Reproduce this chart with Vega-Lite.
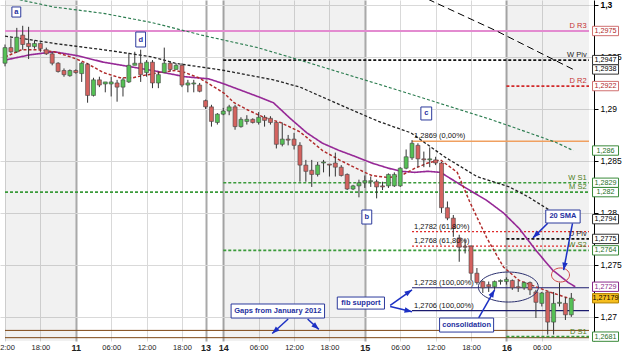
{
"$schema":"https://vega.github.io/schema/vega-lite/v6.json",
"width":594,"height":341,
"autosize":{"type":"none"},
"padding":{"left":0,"top":0,"right":31,"bottom":17},
"background":"white",
"config":{"view":{"stroke":null},"font":"Liberation Sans"},
"datasets":{
"days":[{"t":0,"t2":12},{"t":37,"t2":61},{"t":85,"t2":99}],
"levels":[
{"kind":"R3","p":1.2975,"t":0,"t2":99,"tag":"D R3"},
{"kind":"pivot","p":1.2947,"t":37,"t2":99,"tag":"W Piv"},
{"kind":"R2","p":1.2922,"t":85,"t2":99,"tag":"D R2"},
{"kind":"fib0","p":1.2869,"t":69,"t2":99,"tag":"1,2869 (0,00%)"},
{"kind":"support","p":1.2829,"t":37,"t2":99,"tag":"W S1"},
{"kind":"support","p":1.2820,"t":0,"t2":99,"tag":"M S2"},
{"kind":"fib618","p":1.2782,"t":69,"t2":99,"tag":"1,2782 (61,80%)"},
{"kind":"pivot","p":1.2775,"t":85,"t2":99,"tag":"D Piv"},
{"kind":"fib618","p":1.2768,"t":69,"t2":99,"tag":"1,2768 (61,80%)"},
{"kind":"support","p":1.2764,"t":37,"t2":99,"tag":"W S2"},
{"kind":"fib100","p":1.2728,"t":69,"t2":99,"tag":"1,2728 (100,00%)"},
{"kind":"fib100","p":1.2706,"t":69,"t2":99,"tag":"1,2706 (100,00%)"},
{"kind":"gap","p":1.2687,"t":0,"t2":99,"tag":""},
{"kind":"gap","p":1.2680,"t":0,"t2":99,"tag":""},
{"kind":"support","p":1.2681,"t":85,"t2":99,"tag":"D S1"}
],
"mas":[
{"ma":"ma20","t":0,"p":1.2947},{"ma":"ma20","t":4.17,"p":1.2952},{"ma":"ma20","t":8.33,"p":1.2955},{"ma":"ma20","t":12.5,"p":1.2951},{"ma":"ma20","t":16.67,"p":1.2945},{"ma":"ma20","t":20.83,"p":1.2941},{"ma":"ma20","t":25,"p":1.2937},{"ma":"ma20","t":27.83,"p":1.2934},{"ma":"ma20","t":30.5,"p":1.2931},{"ma":"ma20","t":34.5,"p":1.2929},{"ma":"ma20","t":36.67,"p":1.2925},{"ma":"ma20","t":40,"p":1.2918},{"ma":"ma20","t":42.83,"p":1.2912},{"ma":"ma20","t":45.5,"p":1.2906},{"ma":"ma20","t":48.33,"p":1.2891},{"ma":"ma20","t":51.17,"p":1.2877},{"ma":"ma20","t":53.83,"p":1.2867},{"ma":"ma20","t":56.67,"p":1.2860},{"ma":"ma20","t":59.5,"p":1.2854},{"ma":"ma20","t":62.17,"p":1.2848},{"ma":"ma20","t":65,"p":1.2843},{"ma":"ma20","t":67.17,"p":1.2840},{"ma":"ma20","t":69.5,"p":1.2839},{"ma":"ma20","t":71.67,"p":1.2840},{"ma":"ma20","t":73.83,"p":1.2839},{"ma":"ma20","t":77.83,"p":1.2825},{"ma":"ma20","t":81.67,"p":1.2812},{"ma":"ma20","t":84.5,"p":1.2800},{"ma":"ma20","t":87.17,"p":1.2785},{"ma":"ma20","t":90,"p":1.2764},{"ma":"ma20","t":92.83,"p":1.2745},{"ma":"ma20","t":95.5,"p":1.2733},{"ma":"ma20","t":96.67,"p":1.2729},
{"ma":"ma10","t":0,"p":1.2950},{"ma":"ma10","t":2.83,"p":1.2957},{"ma":"ma10","t":5.5,"p":1.2957},{"ma":"ma10","t":8.33,"p":1.2955},{"ma":"ma10","t":11.17,"p":1.2950},{"ma":"ma10","t":13.83,"p":1.2944},{"ma":"ma10","t":16.67,"p":1.2935},{"ma":"ma10","t":19.5,"p":1.2930},{"ma":"ma10","t":21.67,"p":1.2930},{"ma":"ma10","t":23.33,"p":1.2932},{"ma":"ma10","t":26.17,"p":1.2935},{"ma":"ma10","t":28.83,"p":1.2937},{"ma":"ma10","t":30.5,"p":1.2935},{"ma":"ma10","t":32.83,"p":1.2930},{"ma":"ma10","t":35.5,"p":1.2921},{"ma":"ma10","t":37.17,"p":1.2915},{"ma":"ma10","t":38.83,"p":1.2906},{"ma":"ma10","t":41.17,"p":1.2899},{"ma":"ma10","t":43.83,"p":1.2892},{"ma":"ma10","t":46.67,"p":1.2887},{"ma":"ma10","t":50,"p":1.2878},{"ma":"ma10","t":53.83,"p":1.2860},{"ma":"ma10","t":56.67,"p":1.2851},{"ma":"ma10","t":59.5,"p":1.2843},{"ma":"ma10","t":62.17,"p":1.2836},{"ma":"ma10","t":65,"p":1.2834},{"ma":"ma10","t":67.17,"p":1.2836},{"ma":"ma10","t":69.5,"p":1.2843},{"ma":"ma10","t":71.67,"p":1.2848},{"ma":"ma10","t":73.83,"p":1.2851},{"ma":"ma10","t":76.67,"p":1.2839},{"ma":"ma10","t":78.83,"p":1.2810},{"ma":"ma10","t":81.67,"p":1.2776},{"ma":"ma10","t":84.5,"p":1.2748},{"ma":"ma10","t":87.17,"p":1.2735},{"ma":"ma10","t":90,"p":1.2729},{"ma":"ma10","t":92.83,"p":1.2723},{"ma":"ma10","t":95.5,"p":1.2718},{"ma":"ma10","t":96.67,"p":1.2716},
{"ma":"ma50","t":0,"p":1.2970},{"ma":"ma50","t":5,"p":1.2966},{"ma":"ma50","t":8.33,"p":1.2963},{"ma":"ma50","t":16.67,"p":1.2957},{"ma":"ma50","t":25,"p":1.2950},{"ma":"ma50","t":28.83,"p":1.2944},{"ma":"ma50","t":37.17,"p":1.2937},{"ma":"ma50","t":45.5,"p":1.2928},{"ma":"ma50","t":50,"p":1.2921},{"ma":"ma50","t":58.83,"p":1.2899},{"ma":"ma50","t":63.33,"p":1.2888},{"ma":"ma50","t":68.83,"p":1.2877},{"ma":"ma50","t":74.5,"p":1.2854},{"ma":"ma50","t":80,"p":1.2835},{"ma":"ma50","t":85.5,"p":1.2825},{"ma":"ma50","t":88.83,"p":1.2815},{"ma":"ma50","t":93.33,"p":1.2799},{"ma":"ma50","t":96.33,"p":1.2794},
{"ma":"ma100","t":0,"p":1.3008},{"ma":"ma100","t":8.33,"p":1.2998},{"ma":"ma100","t":16.67,"p":1.2992},{"ma":"ma100","t":25,"p":1.2983},{"ma":"ma100","t":33.33,"p":1.2971},{"ma":"ma100","t":42.83,"p":1.2959},{"ma":"ma100","t":50,"p":1.2947},{"ma":"ma100","t":66.67,"p":1.2918},{"ma":"ma100","t":82.83,"p":1.2889},{"ma":"ma100","t":93.33,"p":1.2868},{"ma":"ma100","t":96.33,"p":1.2860},
{"ma":"ma200","t":70,"p":1.3010},{"ma":"ma200","t":83.33,"p":1.2975},{"ma":"ma200","t":96.33,"p":1.2938}
],
"candles":[
{"t":0,"open":1.2944,"high":1.2962,"low":1.2941,"close":1.2959},
{"t":1,"open":1.2959,"high":1.2968,"low":1.2954,"close":1.2955},
{"t":2,"open":1.2955,"high":1.2978,"low":1.2954,"close":1.2969},
{"t":3,"open":1.2971,"high":1.2980,"low":1.2957,"close":1.2962},
{"t":4,"open":1.2963,"high":1.2979,"low":1.2948,"close":1.2960},
{"t":5,"open":1.2960,"high":1.2966,"low":1.2958,"close":1.2963},
{"t":6,"open":1.2963,"high":1.2964,"low":1.2955,"close":1.2958},
{"t":7,"open":1.2957,"high":1.2959,"low":1.2952,"close":1.2953},
{"t":8,"open":1.2953,"high":1.2955,"low":1.2942,"close":1.2944},
{"t":9,"open":1.2944,"high":1.2945,"low":1.2935,"close":1.2936},
{"t":10,"open":1.2937,"high":1.2939,"low":1.2931,"close":1.2933},
{"t":11,"open":1.2932,"high":1.2938,"low":1.2931,"close":1.2937},
{"t":12,"open":1.2937,"high":1.2938,"low":1.2934,"close":1.2935},
{"t":13,"open":1.2934,"high":1.2945,"low":1.2926,"close":1.2944},
{"t":14,"open":1.2943,"high":1.2944,"low":1.2906,"close":1.2913},
{"t":15,"open":1.2913,"high":1.2930,"low":1.2912,"close":1.2928},
{"t":16,"open":1.2928,"high":1.2931,"low":1.2921,"close":1.2923},
{"t":17,"open":1.2924,"high":1.2926,"low":1.2916,"close":1.2926},
{"t":18,"open":1.2924,"high":1.2931,"low":1.2912,"close":1.2926},
{"t":19,"open":1.2925,"high":1.2928,"low":1.2907,"close":1.2921},
{"t":20,"open":1.2921,"high":1.2930,"low":1.2912,"close":1.2928},
{"t":21,"open":1.2926,"high":1.2954,"low":1.2925,"close":1.2942},
{"t":22,"open":1.2942,"high":1.2955,"low":1.2942,"close":1.2944},
{"t":23,"open":1.2944,"high":1.2957,"low":1.2926,"close":1.2933},
{"t":24,"open":1.2935,"high":1.2947,"low":1.2931,"close":1.2945},
{"t":25,"open":1.2945,"high":1.2947,"low":1.2920,"close":1.2925},
{"t":26,"open":1.2925,"high":1.2936,"low":1.2920,"close":1.2933},
{"t":27,"open":1.2935,"high":1.2959,"low":1.2935,"close":1.2944},
{"t":28,"open":1.2944,"high":1.2946,"low":1.2936,"close":1.2938},
{"t":29,"open":1.2938,"high":1.2944,"low":1.2938,"close":1.2942},
{"t":30,"open":1.2942,"high":1.2944,"low":1.2921,"close":1.2923},
{"t":31,"open":1.2923,"high":1.2928,"low":1.2916,"close":1.2925},
{"t":32,"open":1.2924,"high":1.2928,"low":1.2916,"close":1.2925},
{"t":33,"open":1.2923,"high":1.2925,"low":1.2916,"close":1.2917},
{"t":34,"open":1.2908,"high":1.2909,"low":1.2900,"close":1.2902},
{"t":35,"open":1.2902,"high":1.2904,"low":1.2883,"close":1.2888},
{"t":36,"open":1.2887,"high":1.2896,"low":1.2885,"close":1.2895},
{"t":37,"open":1.2895,"high":1.2901,"low":1.2894,"close":1.2898},
{"t":38,"open":1.2898,"high":1.2904,"low":1.2894,"close":1.2902},
{"t":39,"open":1.2902,"high":1.2904,"low":1.2880,"close":1.2883},
{"t":40,"open":1.2883,"high":1.2892,"low":1.2882,"close":1.2890},
{"t":41,"open":1.2888,"high":1.2894,"low":1.2885,"close":1.2890},
{"t":42,"open":1.2890,"high":1.2891,"low":1.2886,"close":1.2887},
{"t":43,"open":1.2887,"high":1.2897,"low":1.2885,"close":1.2892},
{"t":44,"open":1.2892,"high":1.2894,"low":1.2883,"close":1.2889},
{"t":45,"open":1.2891,"high":1.2893,"low":1.2885,"close":1.2887},
{"t":46,"open":1.2887,"high":1.2887,"low":1.2862,"close":1.2866},
{"t":47,"open":1.2866,"high":1.2887,"low":1.2864,"close":1.2871},
{"t":48,"open":1.2871,"high":1.2875,"low":1.2865,"close":1.2870},
{"t":49,"open":1.2871,"high":1.2877,"low":1.2861,"close":1.2865},
{"t":50,"open":1.2865,"high":1.2868,"low":1.2830,"close":1.2846},
{"t":51,"open":1.2846,"high":1.2851,"low":1.2830,"close":1.2840},
{"t":52,"open":1.2841,"high":1.2851,"low":1.2825,"close":1.2837},
{"t":53,"open":1.2837,"high":1.2849,"low":1.2835,"close":1.2846},
{"t":54,"open":1.2848,"high":1.2851,"low":1.2839,"close":1.2849},
{"t":55,"open":1.2847,"high":1.2847,"low":1.2835,"close":1.2846},
{"t":56,"open":1.2848,"high":1.2858,"low":1.2835,"close":1.2844},
{"t":57,"open":1.2844,"high":1.2846,"low":1.2835,"close":1.2836},
{"t":58,"open":1.2837,"high":1.2838,"low":1.2822,"close":1.2823},
{"t":59,"open":1.2823,"high":1.2827,"low":1.2822,"close":1.2826},
{"t":60,"open":1.2826,"high":1.2832,"low":1.2815,"close":1.2829},
{"t":61,"open":1.2829,"high":1.2836,"low":1.2824,"close":1.2831},
{"t":62,"open":1.2830,"high":1.2835,"low":1.2825,"close":1.2831},
{"t":63,"open":1.2830,"high":1.2832,"low":1.2814,"close":1.2825},
{"t":64,"open":1.2826,"high":1.2830,"low":1.2822,"close":1.2825},
{"t":65,"open":1.2826,"high":1.2838,"low":1.2824,"close":1.2837},
{"t":66,"open":1.2826,"high":1.2839,"low":1.2825,"close":1.2837},
{"t":67,"open":1.2826,"high":1.2844,"low":1.2825,"close":1.2843},
{"t":68,"open":1.2843,"high":1.2861,"low":1.2842,"close":1.2854},
{"t":69,"open":1.2853,"high":1.2870,"low":1.2851,"close":1.2867},
{"t":70,"open":1.2865,"high":1.2867,"low":1.2844,"close":1.2852},
{"t":71,"open":1.2852,"high":1.2859,"low":1.2844,"close":1.2851},
{"t":72,"open":1.2851,"high":1.2863,"low":1.2844,"close":1.2852},
{"t":73,"open":1.2851,"high":1.2854,"low":1.2846,"close":1.2848},
{"t":74,"open":1.2848,"high":1.2849,"low":1.2800,"close":1.2805},
{"t":75,"open":1.2805,"high":1.2811,"low":1.2793,"close":1.2795},
{"t":76,"open":1.2795,"high":1.2798,"low":1.2777,"close":1.2785},
{"t":77,"open":1.2776,"high":1.2779,"low":1.2753,"close":1.2767},
{"t":78,"open":1.2768,"high":1.2774,"low":1.2761,"close":1.2767},
{"t":79,"open":1.2768,"high":1.2769,"low":1.2735,"close":1.2742},
{"t":80,"open":1.2742,"high":1.2747,"low":1.2731,"close":1.2733},
{"t":81,"open":1.2734,"high":1.2735,"low":1.2723,"close":1.2728},
{"t":82,"open":1.2731,"high":1.2734,"low":1.2724,"close":1.2729},
{"t":83,"open":1.2729,"high":1.2735,"low":1.2726,"close":1.2734},
{"t":84,"open":1.2734,"high":1.2736,"low":1.2731,"close":1.2735},
{"t":85,"open":1.2734,"high":1.2738,"low":1.2731,"close":1.2736},
{"t":86,"open":1.2735,"high":1.2736,"low":1.2726,"close":1.2728},
{"t":87,"open":1.2729,"high":1.2735,"low":1.2724,"close":1.2728},
{"t":88,"open":1.2728,"high":1.2734,"low":1.2726,"close":1.2733},
{"t":89,"open":1.2733,"high":1.2734,"low":1.2721,"close":1.2726},
{"t":90,"open":1.2724,"high":1.2726,"low":1.2699,"close":1.2714},
{"t":91,"open":1.2713,"high":1.2724,"low":1.2710,"close":1.2723},
{"t":92,"open":1.2724,"high":1.2724,"low":1.2683,"close":1.2695},
{"t":93,"open":1.2695,"high":1.2724,"low":1.2683,"close":1.2713},
{"t":94,"open":1.2713,"high":1.2733,"low":1.2710,"close":1.2714},
{"t":95,"open":1.2713,"high":1.2719,"low":1.2697,"close":1.2702},
{"t":96,"open":1.2702,"high":1.2723,"low":1.2700,"close":1.2718}
],
"arrows":[
{"id":"A1","t":92,"p":1.2790,"t2":89.5,"p2":1.2776},
{"id":"A2","t":96.2,"p":1.2790,"t2":94.7,"p2":1.2745},
{"id":"A3","t":65.3,"p":1.2711,"t2":69,"p2":1.2726},
{"id":"A4","t":65.3,"p":1.2710,"t2":69,"p2":1.2705},
{"id":"A5","t":48,"p":1.2698,"t2":45.3,"p2":1.2684},
{"id":"A6","t":51.3,"p":1.2698,"t2":53.2,"p2":1.2688},
{"id":"A7","t":80.3,"p":1.2699,"t2":83,"p2":1.2726}
],
"notes":[
{"text":"a","t":1.17,"t2":2.67,"p":1.29981,"p2":1.29884,"tc":1.92,"pc":1.29933},
{"text":"d","t":22.17,"t2":23.83,"p":1.2974,"p2":1.29596,"tc":23,"pc":1.29668},
{"text":"c","t":70.5,"t2":72.33,"p":1.29019,"p2":1.28894,"tc":71.42,"pc":1.28957},
{"text":"b","t":60.5,"t2":62.17,"p":1.28028,"p2":1.27893,"tc":61.33,"pc":1.2796},
{"text":"20 SMA","t":91.67,"t2":97.5,"p":1.28028,"p2":1.27903,"tc":94.58,"pc":1.27966},
{"text":"fib support","t":56.33,"t2":64.33,"p":1.27191,"p2":1.27075,"tc":60.33,"pc":1.27133},
{"text":"Gaps from January 2012","t":38.33,"t2":54.17,"p":1.27124,"p2":1.26989,"tc":46.25,"pc":1.27056},
{"text":"consolidation","t":73.67,"t2":82.83,"p":1.26989,"p2":1.26854,"tc":78.25,"pc":1.26922}
],
"tags":[
{"p":1.2975,"label":"1,2975","group":"res"},
{"p":1.2947,"label":"1,2947","group":"neu"},
{"p":1.2938,"label":"1,2938","group":"neu"},
{"p":1.2922,"label":"1,2922","group":"res"},
{"p":1.286,"label":"1,286","group":"sup"},
{"p":1.2829,"label":"1,2829","group":"sup"},
{"p":1.282,"label":"1,282","group":"sup"},
{"p":1.2794,"label":"1,2794","group":"neu"},
{"p":1.2775,"label":"1,2775","group":"neu"},
{"p":1.2764,"label":"1,2764","group":"sup"},
{"p":1.2729,"label":"1,2729","group":"sma"},
{"p":1.27179,"label":"1,27179","group":"last"},
{"p":1.2681,"label":"1,2681","group":"sup"}
]
},
"layer":[
{"data":{"name":"levels"},"mark":{"type":"rule","opacity":0},
 "encoding":{
  "x":{"field":"t","type":"quantitative","scale":{"domain":[0,99]},
   "axis":{"title":null,"values":[0,6,12,18,24,30,34,37,43,49,55,61,67,73,79,85,91],"tickCount":60,
    "labelExpr":"['12:00','18:00','11','06:00','12:00','18:00','13','14','06:00','12:00','18:00','15','06:00','12:00','18:00','16','06:00'][indexof([0,6,12,18,24,30,34,37,43,49,55,61,67,73,79,85,91], datum.value)]",
    "grid":true,"gridColor":{"condition":{"test":"indexof([12,34,37,61,85], datum.value) >= 0","value":"#a9a9a9"},"value":"#d9d9d9"},
    "gridWidth":{"condition":{"test":"indexof([12,34,37,61,85], datum.value) >= 0","value":2},"value":1},
    "domain":false,"ticks":false,"labelFlush":false,"labelOverlap":false,"labelPadding":2,"labelColor":"#222",
    "labelFontSize":{"condition":{"test":"indexof([12,34,37,61,85], datum.value) >= 0","value":9},"value":7.5},
    "labelFontWeight":{"condition":{"test":"indexof([12,34,37,61,85], datum.value) >= 0","value":"bold"},"value":"normal"}}},
  "x2":{"field":"t2"},
  "y":{"field":"p","type":"quantitative","scale":{"domain":[1.26768,1.30048]},
   "axis":{"title":null,"orient":"right","values":[1.27,1.275,1.28,1.285,1.29,1.295,1.3],"tickCount":20,
    "labelExpr":"replace(format(datum.value, '.4~f'), '.', ',')",
    "grid":true,"gridColor":"#d9d9d9","domainColor":"#000","domainWidth":1,"tickColor":"#000","tickSize":4,
    "labelFontSize":8.5,"labelColor":"#000","labelPadding":2,
    "labelFontWeight":{"condition":{"test":"datum.value >= 1.2999","value":"bold"},"value":"normal"}}}
 }},
{"data":{"name":"days"},"mark":{"type":"rect","fill":"#000","opacity":0.055},
 "encoding":{"x":{"field":"t","type":"quantitative","scale":{"domain":[0,99]},"title":null},"x2":{"field":"t2"}}},
{"data":{"name":"levels"},"mark":{"type":"rule"},
 "encoding":{
  "x":{"field":"t","type":"quantitative","scale":{"domain":[0,99]},"title":null},
  "x2":{"field":"t2"},
  "y":{"field":"p","type":"quantitative","scale":{"domain":[1.26768,1.30048]},"title":null},
  "color":{"field":"kind","type":"nominal","legend":null,"scale":{"domain":["R3","R2","pivot","support","fib0","fib618","fib100","gap"],"range":["#e38bd0","#d22a2a","#111111","#3a9a3a","#f0a060","#e02828","#1b1b6e","#7d4513"]}},
  "strokeDash":{"field":"kind","type":"nominal","legend":null,"scale":{"domain":["R3","R2","pivot","support","fib0","fib618","fib100","gap"],"range":[[1,0],[3,2],[3,2],[3,2],[1,0],[2,2],[1,0],[1,0]]}},
  "strokeWidth":{"field":"kind","type":"nominal","legend":null,"scale":{"domain":["R3","R2","pivot","support","fib0","fib618","fib100","gap"],"range":[2,1,1,1,1,2,1.5,2]}}
 }},
{"data":{"name":"mas"},"mark":{"type":"line","clip":true},
 "encoding":{
  "x":{"field":"t","type":"quantitative","scale":{"domain":[0,99]},"title":null},
  "y":{"field":"p","type":"quantitative","scale":{"domain":[1.26768,1.30048]},"title":null},
  "color":{"field":"ma","type":"nominal","legend":null,"scale":{"domain":["ma20","ma10","ma50","ma100","ma200"],"range":["#962896","#b02a2a","#222222","#2c7d50","#000000"]}},
  "strokeDash":{"field":"ma","type":"nominal","legend":null,"scale":{"domain":["ma20","ma10","ma50","ma100","ma200"],"range":[[1,0],[3,2],[3,2],[3,2],[7,4]]}},
  "strokeWidth":{"field":"ma","type":"nominal","legend":null,"scale":{"domain":["ma20","ma10","ma50","ma100","ma200"],"range":[1.6,1,1,1,1.5]}}
 }},
{"data":{"name":"candles"},"mark":{"type":"rule","color":"#333","strokeWidth":1},
 "encoding":{
  "x":{"field":"t","type":"quantitative","scale":{"domain":[0,99]},"title":null},
  "y":{"field":"low","type":"quantitative","scale":{"domain":[1.26768,1.30048]},"title":null},
  "y2":{"field":"high"}}},
{"data":{"name":"candles"},"mark":{"type":"bar","width":4,"stroke":"#444","strokeWidth":0.6},
 "encoding":{
  "x":{"field":"t","type":"quantitative","scale":{"domain":[0,99]},"title":null},
  "y":{"field":"open","type":"quantitative","scale":{"domain":[1.26768,1.30048]},"title":null},
  "y2":{"field":"close"},
  "color":{"condition":[{"test":"datum.close > datum.open + 0.00005","value":"#55c055"},{"test":"datum.close < datum.open - 0.00005","value":"#d4625f"}],"value":"#777"}}},
{"data":{"name":"levels"},"transform":[{"filter":"datum.tag != '' && indexof(datum.kind, 'fib') != 0"}],
 "mark":{"type":"text","align":"right","baseline":"bottom","dy":-1,"fontSize":7.5},
 "encoding":{
  "x":{"datum":98.6,"type":"quantitative","scale":{"domain":[0,99]},"title":null},
  "y":{"field":"p","type":"quantitative","scale":{"domain":[1.26768,1.30048]},"title":null},
  "text":{"field":"tag"},
  "color":{"field":"kind","type":"nominal","legend":null,"scale":{"domain":["R3","R2","pivot","support"],"range":["#c43030","#c43030","#222222","#4f7d22"]}}}},
{"data":{"name":"levels"},"transform":[{"filter":"indexof(datum.kind, 'fib') == 0"}],
 "mark":{"type":"text","align":"left","baseline":"bottom","dx":2,"dy":-1,"fontSize":7.5,"color":"#111"},
 "encoding":{
  "x":{"field":"t","type":"quantitative","scale":{"domain":[0,99]},"title":null},
  "y":{"field":"p","type":"quantitative","scale":{"domain":[1.26768,1.30048]},"title":null},
  "text":{"field":"tag"}}},
{"data":{"values":[{"zone":"consolidation","t":85.33,"p":1.27287}]},
 "mark":{"type":"point","shape":"M -1 0 A 1 0.5 0 1 1 1 0 A 1 0.5 0 1 1 -1 0 Z","size":3600,"filled":false,"stroke":"#2a2f6e","strokeWidth":1,"opacity":1},
 "encoding":{
  "x":{"field":"t","type":"quantitative","scale":{"domain":[0,99]},"title":null},
  "y":{"field":"p","type":"quantitative","scale":{"domain":[1.26768,1.30048]},"title":null}}},
{"data":{"values":[{"zone":"sma touch","t":94.17,"p":1.27403}]},
 "mark":{"type":"point","shape":"M -1 0 A 1 0.78 0 1 1 1 0 A 1 0.78 0 1 1 -1 0 Z","size":324,"filled":false,"stroke":"#d04848","strokeWidth":1,"opacity":1},
 "encoding":{
  "x":{"field":"t","type":"quantitative","scale":{"domain":[0,99]},"title":null},
  "y":{"field":"p","type":"quantitative","scale":{"domain":[1.26768,1.30048]},"title":null}}},
{"data":{"name":"arrows"},"mark":{"type":"rule","color":"#1c30c4","strokeWidth":1.5},
 "encoding":{
  "x":{"field":"t","type":"quantitative","scale":{"domain":[0,99]},"title":null},
  "x2":{"field":"t2"},
  "y":{"field":"p","type":"quantitative","scale":{"domain":[1.26768,1.30048]},"title":null},
  "y2":{"field":"p2"}}},
{"data":{"name":"arrows"},"transform":[{"filter":"datum.id == 'A1'"}],"mark":{"type":"point","shape":"M 0 0 L -0.55 1.5 L 0.55 1.5 Z","size":100,"filled":true,"color":"#1c30c4","opacity":1,"angle":225},
 "encoding":{"x":{"field":"t2","type":"quantitative","scale":{"domain":[0,99]},"title":null},"y":{"field":"p2","type":"quantitative","scale":{"domain":[1.26768,1.30048]},"title":null}}},
{"data":{"name":"arrows"},"transform":[{"filter":"datum.id == 'A2'"}],"mark":{"type":"point","shape":"M 0 0 L -0.55 1.5 L 0.55 1.5 Z","size":100,"filled":true,"color":"#1c30c4","opacity":1,"angle":191},
 "encoding":{"x":{"field":"t2","type":"quantitative","scale":{"domain":[0,99]},"title":null},"y":{"field":"p2","type":"quantitative","scale":{"domain":[1.26768,1.30048]},"title":null}}},
{"data":{"name":"arrows"},"transform":[{"filter":"datum.id == 'A3'"}],"mark":{"type":"point","shape":"M 0 0 L -0.55 1.5 L 0.55 1.5 Z","size":100,"filled":true,"color":"#1c30c4","opacity":1,"angle":56},
 "encoding":{"x":{"field":"t2","type":"quantitative","scale":{"domain":[0,99]},"title":null},"y":{"field":"p2","type":"quantitative","scale":{"domain":[1.26768,1.30048]},"title":null}}},
{"data":{"name":"arrows"},"transform":[{"filter":"datum.id == 'A4'"}],"mark":{"type":"point","shape":"M 0 0 L -0.55 1.5 L 0.55 1.5 Z","size":100,"filled":true,"color":"#1c30c4","opacity":1,"angle":103},
 "encoding":{"x":{"field":"t2","type":"quantitative","scale":{"domain":[0,99]},"title":null},"y":{"field":"p2","type":"quantitative","scale":{"domain":[1.26768,1.30048]},"title":null}}},
{"data":{"name":"arrows"},"transform":[{"filter":"datum.id == 'A5'"}],"mark":{"type":"point","shape":"M 0 0 L -0.55 1.5 L 0.55 1.5 Z","size":100,"filled":true,"color":"#1c30c4","opacity":1,"angle":227},
 "encoding":{"x":{"field":"t2","type":"quantitative","scale":{"domain":[0,99]},"title":null},"y":{"field":"p2","type":"quantitative","scale":{"domain":[1.26768,1.30048]},"title":null}}},
{"data":{"name":"arrows"},"transform":[{"filter":"datum.id == 'A6'"}],"mark":{"type":"point","shape":"M 0 0 L -0.55 1.5 L 0.55 1.5 Z","size":100,"filled":true,"color":"#1c30c4","opacity":1,"angle":132},
 "encoding":{"x":{"field":"t2","type":"quantitative","scale":{"domain":[0,99]},"title":null},"y":{"field":"p2","type":"quantitative","scale":{"domain":[1.26768,1.30048]},"title":null}}},
{"data":{"name":"arrows"},"transform":[{"filter":"datum.id == 'A7'"}],"mark":{"type":"point","shape":"M 0 0 L -0.55 1.5 L 0.55 1.5 Z","size":100,"filled":true,"color":"#1c30c4","opacity":1,"angle":30},
 "encoding":{"x":{"field":"t2","type":"quantitative","scale":{"domain":[0,99]},"title":null},"y":{"field":"p2","type":"quantitative","scale":{"domain":[1.26768,1.30048]},"title":null}}},
{"data":{"name":"notes"},"mark":{"type":"rect","fill":"#ffffff","stroke":"#2c3a9c","strokeWidth":1},
 "encoding":{
  "x":{"field":"t","type":"quantitative","scale":{"domain":[0,99]},"title":null},
  "x2":{"field":"t2"},
  "y":{"field":"p","type":"quantitative","scale":{"domain":[1.26768,1.30048]},"title":null},
  "y2":{"field":"p2"}}},
{"data":{"name":"notes"},"mark":{"type":"text","fontSize":7.5,"fontWeight":"bold","color":"#1e2fa0","align":"center","baseline":"middle"},
 "encoding":{
  "x":{"field":"tc","type":"quantitative","scale":{"domain":[0,99]},"title":null},
  "y":{"field":"pc","type":"quantitative","scale":{"domain":[1.26768,1.30048]},"title":null},
  "text":{"field":"text"}}},
{"data":{"name":"tags"},"mark":{"type":"point","shape":"M -1 -0.36 L 1 -0.36 L 1 0.36 L -1 0.36 Z","size":676,"filled":true,"opacity":1,"strokeWidth":1},
 "encoding":{
  "x":{"datum":101.8,"type":"quantitative","scale":{"domain":[0,99]},"title":null},
  "y":{"field":"p","type":"quantitative","scale":{"domain":[1.26768,1.30048]},"title":null},
  "fill":{"field":"group","type":"nominal","legend":null,"scale":{"domain":["res","neu","sup","sma","last"],"range":["#ffffff","#ffffff","#ffffff","#ffffff","#f6be1e"]}},
  "stroke":{"field":"group","type":"nominal","legend":null,"scale":{"domain":["res","neu","sup","sma","last"],"range":["#d07070","#333333","#3a8a3a","#8a2a8a","#b08000"]}}}},
{"data":{"name":"tags"},"mark":{"type":"text","fontSize":7.2,"align":"center","baseline":"middle"},
 "encoding":{
  "x":{"datum":101.8,"type":"quantitative","scale":{"domain":[0,99]},"title":null},
  "y":{"field":"p","type":"quantitative","scale":{"domain":[1.26768,1.30048]},"title":null},
  "text":{"field":"label"},
  "color":{"field":"group","type":"nominal","legend":null,"scale":{"domain":["res","neu","sup","sma","last"],"range":["#b02828","#000000","#256f25","#8a2a8a","#000000"]}}}}
],
"resolve":{"scale":{"color":"independent","strokeDash":"independent","strokeWidth":"independent","fill":"independent","stroke":"independent"}}
}
